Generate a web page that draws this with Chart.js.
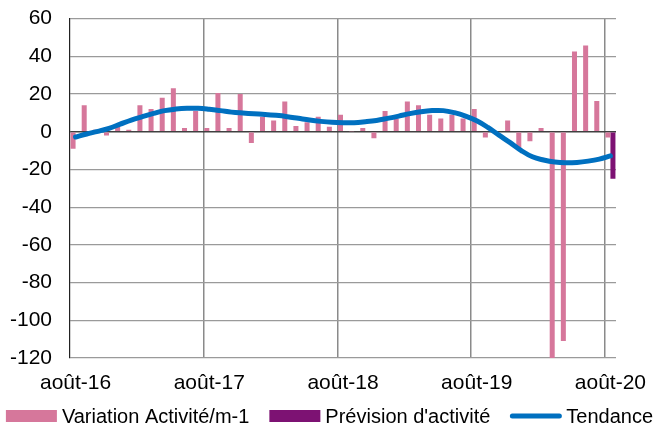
<!DOCTYPE html>
<html><head><meta charset="utf-8">
<script src="https://cdn.jsdelivr.net/npm/chart.js@4"></script>
<style>html,body{margin:0;padding:0;background:#fff}</style>
</head><body>
<canvas id="c" width="657" height="425"></canvas>
<script>
const months = [
  'août-16','sept-16','oct-16','nov-16','déc-16',
  'janv-17','févr-17','mars-17','avr-17','mai-17','juin-17','juil-17','août-17','sept-17','oct-17','nov-17','déc-17',
  'janv-18','févr-18','mars-18','avr-18','mai-18','juin-18','juil-18','août-18','sept-18','oct-18','nov-18','déc-18',
  'janv-19','févr-19','mars-19','avr-19','mai-19','juin-19','juil-19','août-19','sept-19','oct-19','nov-19','déc-19',
  'janv-20','févr-20','mars-20','avr-20','mai-20','juin-20','juil-20','août-20'
];
const variation = [-9, 14, 1, -2, 3, 1, 14, 12, 18, 23, 2, 11, 2, 20.5, 2, 20, -6, 8, 6, 16, 3, 5, 8, 2.7, 9, 0.3, 2, -3.5, 11, 7, 16, 14, 9, 7, 9, 7, 12, -3, 0, 6, -9, -5, 2, -120, -111, 42.5, 45.7, 16.3, -3];
const prevision = [{x: 'août-20', y: -25}];
const tendance = [-2.8, -1.2, 0.2, 1.8, 4, 6.2, 8, 9.7, 11.2, 12, 12.4, 12.4, 11.9, 11.2, 10.4, 9.9, 9.5, 9.2, 8.7, 8, 7.1, 6.2, 5.5, 5, 4.8, 4.8, 5.3, 6, 7.1, 8.3, 9.6, 10.6, 11.2, 11.2, 10.1, 8.3, 5.8, 2.3, -1.8, -5.8, -10, -13.3, -15, -16.1, -16.5, -16.3, -15.6, -14.5, -12.8];
const yTicks = {min: -120, max: 60, step: 20};
const labelEvery = 12;

const FONT = '"Liberation Sans", Arial, sans-serif';
const legendPlugin = {
  id: 'customLegend',
  afterDraw(chart) {
    const ctx = chart.ctx;
    const ds = chart.data.datasets;
    const order = [1, 2, 0];
    ctx.save();
    ctx.font = '20px ' + FONT;
    ctx.textBaseline = 'middle';
    ctx.fillStyle = '#000';
    const boxW = 51, boxH = 12, gapText = 5, gapItem = 20;
    const items = order.map(i => ({d: ds[i], w: ctx.measureText(ds[i].label).width}));
    let total = items.reduce((s, it) => s + boxW + gapText + it.w, 0) + gapItem * (items.length - 1);
    let x = (chart.width - total) / 2 + 1;
    const y = 416;
    items.forEach(it => {
      if (it.d.type === 'line') {
        ctx.strokeStyle = it.d.borderColor;
        ctx.lineWidth = 5;
        ctx.lineCap = 'round';
        ctx.beginPath();
        ctx.moveTo(x + 2, y);
        ctx.lineTo(x + boxW - 2, y);
        ctx.stroke();
      } else {
        ctx.fillStyle = it.d.backgroundColor;
        ctx.fillRect(x, y - boxH / 2, boxW, boxH);
      }
      ctx.fillStyle = '#000';
      ctx.fillText(it.d.label, x + boxW + gapText, y + 1);
      x += boxW + gapText + it.w + gapItem;
    });
    ctx.restore();
  }
};

new Chart(document.getElementById('c'), {
  type: 'bar',
  data: {
    labels: months,
    datasets: [
      {type: 'line', label: 'Tendance', data: tendance, borderColor: '#0070C0', borderWidth: 5,
       pointRadius: 0, tension: 0.4, borderCapStyle: 'round', fill: false, order: 0},
      {label: 'Variation Activité/m-1', data: variation, backgroundColor: '#D6779B',
       categoryPercentage: 0.9, barPercentage: 1.0, order: 1},
      {label: "Prévision d'activité", data: prevision, backgroundColor: '#7D1273',
       categoryPercentage: 0.9, barPercentage: 1.0, order: 2}
    ]
  },
  options: {
    responsive: false,
    animation: false,
    devicePixelRatio: 1,
    layout: {padding: {left: 0, right: 41, top: 18.6, bottom: 22}},
    plugins: {legend: {display: false}, tooltip: {enabled: false}},
    scales: {
      x: {
        offset: true,
        grid: {
          offset: true,
          drawTicks: true,
          tickLength: 13,
          tickColor: 'rgba(0,0,0,0)',
          lineWidth: 1.5,
          color: c => (c.index > 0 && c.index < months.length && c.index % labelEvery === 0) ? '#8a8a8a' : 'rgba(0,0,0,0)'
        },
        border: {display: false},
        ticks: {
          autoSkip: false, maxRotation: 0, minRotation: 0, padding: 0,
          color: '#000', font: {family: FONT, size: 21},
          callback: function(v, i) { return i % labelEvery === 0 ? this.getLabelForValue(v) : ''; }
        },
        afterFit: s => { s.height = 45; }
      },
      y: {
        min: yTicks.min, max: yTicks.max,
        grid: {
          drawTicks: true,
          tickLength: 18,
          tickColor: 'rgba(0,0,0,0)',
          lineWidth: c => c.tick && c.tick.value === 0 ? 1.5 : 1.2,
          color: c => c.tick && c.tick.value === 0 ? '#404040' : '#9a9a9a'
        },
        border: {display: true, color: '#222', width: 1.2},
        ticks: {stepSize: yTicks.step, padding: 0, color: '#000', font: {family: FONT, size: 21}},
        afterFit: s => { s.width = 70; }
      }
    }
  },
  plugins: [legendPlugin]
});
</script>
</body></html>
